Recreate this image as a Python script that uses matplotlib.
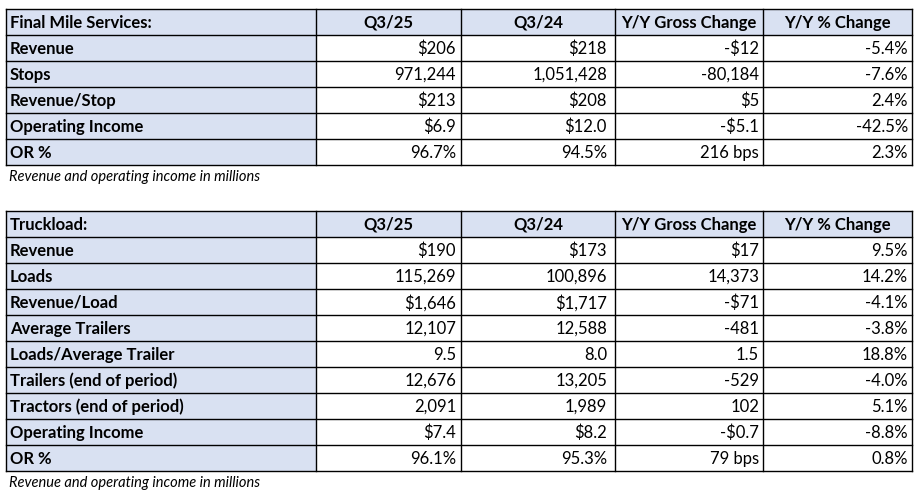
import matplotlib.pyplot as plt
from matplotlib.patches import Rectangle

# Datos de las tablas
col_headers = ["Q3/25", "Q3/24", "Y/Y Gross Change", "Y/Y % Change"]

fm_title = "Final Mile Services:"
fm_rows = ["Revenue", "Stops", "Revenue/Stop", "Operating Income", "OR %"]
fm_q325 = ["$206", "971,244", "$213", "$6.9", "96.7%"]
fm_q324 = ["$218", "1,051,428", "$208", "$12.0", "94.5%"]
fm_gross = ["-$12", "-80,184", "$5", "-$5.1", "216 bps"]
fm_pct = ["-5.4%", "-7.6%", "2.4%", "-42.5%", "2.3%"]

tl_title = "Truckload:"
tl_rows = ["Revenue", "Loads", "Revenue/Load", "Average Trailers", "Loads/Average Trailer",
           "Trailers (end of period)", "Tractors (end of period)", "Operating Income", "OR %"]
tl_q325 = ["$190", "115,269", "$1,646", "12,107", "9.5", "12,676", "2,091", "$7.4", "96.1%"]
tl_q324 = ["$173", "100,896", "$1,717", "12,588", "8.0", "13,205", "1,989", "$8.2", "95.3%"]
tl_gross = ["$17", "14,373", "-$71", "-481", "1.5", "-529", "102", "-$0.7", "79 bps"]
tl_pct = ["9.5%", "14.2%", "-4.1%", "-3.8%", "18.8%", "-4.0%", "5.1%", "-8.8%", "0.8%"]

nota = "Revenue and operating income in millions"

azul = '#D9E1F2'
col_x = [6, 316, 461, 615, 763, 912]
margen = [5, 8, 4, 4]   # espacio a la derecha de cada columna numerica
alto = 26
fuente = 'Lato'
tam = 12

fig = plt.figure(figsize=(9.22, 4.92), dpi=100)
ax = fig.add_axes([0, 0, 1, 1])
ax.set_xlim(0, 922)
ax.set_ylim(492, 0)
ax.axis('off')


def dibujar_tabla(y0, titulo, filas, columnas):
    n = len(filas) + 1
    # fondos
    ax.add_patch(Rectangle((col_x[0], y0), col_x[-1] - col_x[0], alto, facecolor=azul, edgecolor='none'))
    ax.add_patch(Rectangle((col_x[0], y0), col_x[1] - col_x[0], alto * n, facecolor=azul, edgecolor='none'))
    # lineas
    for i in range(n + 1):
        ax.plot([col_x[0], col_x[-1]], [y0 + i * alto] * 2, color='black', lw=1)
    for x in col_x:
        ax.plot([x, x], [y0, y0 + n * alto], color='black', lw=1)
    # encabezados
    ax.text(col_x[0] + 4, y0 + alto / 2 + 1, titulo, fontsize=tam, fontweight='bold',
            family=fuente, va='center', ha='left')
    for j, h in enumerate(col_headers):
        ax.text((col_x[j + 1] + col_x[j + 2]) / 2, y0 + alto / 2 + 1, h, fontsize=tam,
                fontweight='bold', family=fuente, va='center', ha='center')
    # filas
    for i, nombre in enumerate(filas):
        yc = y0 + (i + 1.5) * alto + 1
        ax.text(col_x[0] + 4, yc, nombre, fontsize=tam, fontweight='bold', family=fuente,
                va='center', ha='left')
        for j, col in enumerate(columnas):
            ax.text(col_x[j + 2] - margen[j], yc, col[i], fontsize=tam, family=fuente,
                    va='center', ha='right')
    ax.text(col_x[0] + 3, y0 + n * alto + 12, nota, fontsize=10.5, style='italic',
            family=fuente, va='center', ha='left')


dibujar_tabla(9, fm_title, fm_rows, [fm_q325, fm_q324, fm_gross, fm_pct])
dibujar_tabla(211, tl_title, tl_rows, [tl_q325, tl_q324, tl_gross, tl_pct])

fig.savefig('out.png', dpi=100)
